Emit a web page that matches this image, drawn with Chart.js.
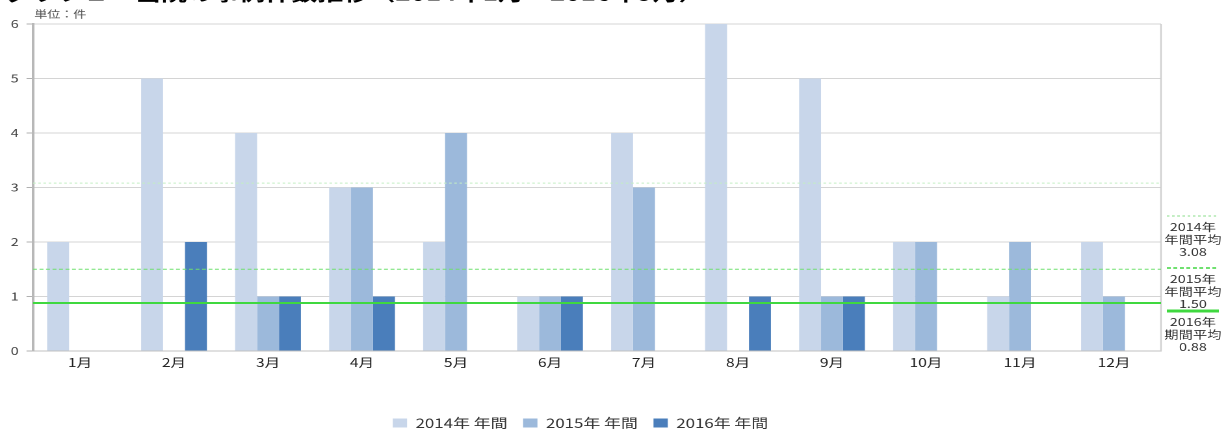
<!DOCTYPE html>
<html lang="ja">
<head>
<meta charset="utf-8">
<script src="https://cdn.jsdelivr.net/npm/chart.js@4.4.1/dist/chart.umd.min.js"></script>
<style>
  html, body { margin: 0; padding: 0; background: #ffffff; overflow: hidden; }
  /* the chart is laid out narrower and widened horizontally */
  #wrap { width: 943px; height: 429px; position: relative;
          transform: scaleX(1.30011); transform-origin: 0 0; }
</style>
</head>
<body>
<div id="wrap"><canvas id="c"></canvas></div>
<script>
// 月別の事例件数（単位：件）
const months = ['1月','2月','3月','4月','5月','6月','7月','8月','9月','10月','11月','12月'];
const cases2014 = [2, 5, 4, 3, 2, 1, 4, 6, 5, 2, 1, 2];
const cases2015 = [0, 0, 1, 3, 4, 1, 3, 0, 1, 2, 2, 1];
const cases2016 = [0, 2, 1, 1, 0, 1, 0, 1, 1, null, null, null];
const seriesNames = ['2014年 年間', '2015年 年間', '2016年 年間'];

// 平均線（値と右側の注記）
const averageValues = [3.08, 1.50, 0.88];
const averageLabels = [
  ['2014年', '年間平均', '3.08'],
  ['2015年', '年間平均', '1.50'],
  ['2016年', '期間平均', '0.88']
];

const yTicks = [0, 1, 2, 3, 4, 5, 6];
const titleText = 'グラフ１　当院の事例件数推移（2014年1月～2016年9月）';
const unitText = '単位：件';

const FONT = '"Noto Sans CJK JP", "Noto Sans", sans-serif';
const barColors = ['#c8d6ea', '#9cb9db', '#4a7ebb'];
const avgStyles = [
  { color: '#c4eec4', width: 1, dash: [2, 2] },
  { color: '#6fe06f', width: 1, dash: [3, 2] },
  { color: '#3fd83f', width: 2, dash: [] }
];

const decorPlugin = {
  id: 'decor',
  beforeDatasetsDraw(chart) {
    const { ctx, chartArea: a } = chart;
    ctx.save();
    // 右枠線
    ctx.strokeStyle = '#cfcfcf';
    ctx.lineWidth = 1.2;
    ctx.beginPath();
    ctx.moveTo(a.right, a.top);
    ctx.lineTo(a.right, a.bottom);
    ctx.stroke();
    ctx.restore();
  },
  afterDatasetsDraw(chart) {
    const { ctx, chartArea: a, scales } = chart;
    const y = scales.y;
    ctx.save();
    // 平均線
    averageValues.forEach((v, i) => {
      const st = avgStyles[i];
      const py = y.getPixelForValue(v);
      ctx.strokeStyle = st.color;
      ctx.lineWidth = st.width;
      ctx.setLineDash(st.dash);
      ctx.beginPath();
      ctx.moveTo(a.left, py);
      ctx.lineTo(a.right, py);
      ctx.stroke();
    });
    ctx.setLineDash([]);

    // 右側の平均注記
    const cx = a.right + 24.5;
    const blocks = [216, 268, 311];
    ctx.font = '11px ' + FONT;
    ctx.fillStyle = '#333';
    ctx.textAlign = 'center';
    ctx.textBaseline = 'middle';
    averageLabels.forEach((lines, i) => {
      const st = avgStyles[i];
      const top = blocks[i];
      ctx.strokeStyle = st.color;
      ctx.lineWidth = st.width + 1;
      ctx.setLineDash(st.dash);
      ctx.beginPath();
      ctx.moveTo(cx - 20, top);
      ctx.lineTo(cx + 20, top);
      ctx.stroke();
      ctx.setLineDash([]);
      lines.forEach((t, k) => {
        ctx.fillText(t, cx, top + 11 + k * 12.5);
      });
    });

    // 単位
    ctx.font = '10px ' + FONT;
    ctx.fillStyle = '#555';
    ctx.textAlign = 'left';
    ctx.fillText(unitText, a.left + 1, 14);

    // タイトル（上端で切れている）
    ctx.font = 'bold 20px ' + FONT;
    ctx.fillStyle = '#000';
    ctx.textBaseline = 'alphabetic';
    ctx.fillText(titleText, 4, 0.5);
    ctx.restore();
  }
};

new Chart(document.getElementById('c'), {
  type: 'bar',
  data: {
    labels: months,
    datasets: [
      { label: seriesNames[0], data: cases2014, backgroundColor: barColors[0] },
      { label: seriesNames[1], data: cases2015, backgroundColor: barColors[1] },
      { label: seriesNames[2], data: cases2016, backgroundColor: barColors[2] }
    ]
  },
  options: {
    responsive: true,
    maintainAspectRatio: false,
    animation: false,
    devicePixelRatio: 2,
    layout: { padding: { top: 24, right: 50, left: 0, bottom: -10.5 } },
    datasets: { bar: { categoryPercentage: 0.7, barPercentage: 1.0, borderWidth: 0 } },
    plugins: {
      legend: {
        position: 'bottom',
        labels: {
          boxWidth: 11,
          boxHeight: 9,
          padding: 12,
          color: '#333',
          font: { family: FONT, size: 13 }
        }
      },
      tooltip: { enabled: false },
      title: { display: false }
    },
    scales: {
      x: {
        grid: { display: false, drawTicks: false },
        border: { display: true, color: '#c0c0c0', width: 1 },
        ticks: { color: '#222', font: { family: FONT, size: 12 }, padding: 4, maxRotation: 0 },
        afterFit(s) { s.height = 53.5; }
      },
      y: {
        min: 0,
        max: 6,
        afterBuildTicks(s) { s.ticks = yTicks.map(v => ({ value: v })); },
        grid: { color: '#d4d4d4', tickLength: 5, tickColor: '#b0b0b0' },
        border: { display: true, color: '#b8b8b8', width: 2 },
        ticks: { color: '#444', font: { family: FONT, size: 11 }, padding: 6 },
        afterFit(s) { s.width = 25.4; }
      }
    }
  },
  plugins: [decorPlugin]
});
</script>
</body>
</html>
